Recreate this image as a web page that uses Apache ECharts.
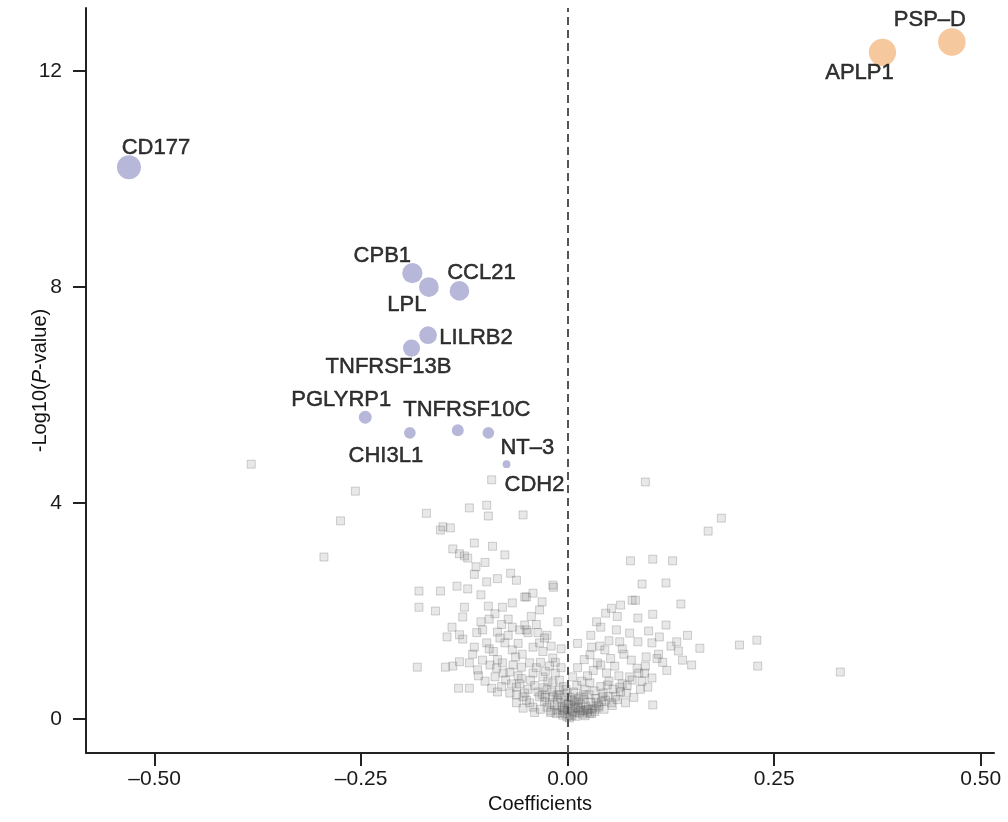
<!DOCTYPE html>
<html>
<head>
<meta charset="utf-8">
<script src="https://cdn.jsdelivr.net/npm/echarts@6/dist/echarts.min.js"></script>
<style>
  html, body { margin: 0; padding: 0; background: #ffffff; }
  #chart { width: 1008px; height: 822px; }
</style>
</head>
<body>
<div id="chart"></div>
<script>
// Highlighted proteins: regression coefficient and -log10(P)
const genes = ['PSP–D', 'APLP1', 'CD177', 'CPB1', 'LPL', 'CCL21', 'LILRB2', 'TNFRSF13B', 'PGLYRP1', 'CHI3L1', 'TNFRSF10C', 'NT–3', 'CDH2'];
const coefs = [0.465, 0.381, -0.531, -0.188, -0.168, -0.131, -0.169, -0.189, -0.245, -0.191, -0.133, -0.096, -0.074];
const logP  = [12.54, 12.35, 10.22, 8.26, 8.00, 7.93, 7.11, 6.87, 5.59, 5.30, 5.35, 5.30, 4.72];

// Remaining (non-significant) proteins
const bgCoef = [
  -0.383, -0.257, -0.275, -0.295, -0.171, -0.119, -0.098, -0.096, -0.054, -0.151, -0.142, -0.154,
  -0.139, -0.131, -0.125, -0.113, -0.091, -0.121, -0.111, -0.113, -0.076, -0.098, -0.069, -0.062,
  -0.050, -0.180, -0.154, -0.134, -0.121, -0.180, -0.125, -0.096, -0.079, -0.067, -0.127, -0.105,
  -0.103, -0.085, -0.067, -0.058, -0.052, -0.146, -0.131, -0.127, -0.113, -0.098, -0.076, -0.067,
  -0.182, -0.148, -0.139, -0.131, -0.119, -0.109, -0.103, -0.094, -0.086, -0.079, -0.070, -0.063,
  -0.056, -0.132, -0.119, -0.092, -0.085, -0.070, -0.062, -0.054, -0.062, -0.054, -0.092,
  0.094, 0.186, 0.170, 0.076, 0.103, 0.127, 0.119, 0.137, -0.017, 0.064, 0.046, 0.103,
  0.085, 0.119, 0.040, 0.059, 0.075, 0.098, 0.111, 0.063, 0.085, 0.102, 0.132, 0.160,
  0.208, 0.229, 0.230, 0.330, 0.134, 0.139, 0.029, 0.039, 0.027, 0.045, 0.036, 0.077,
  0.084, 0.093, 0.102, 0.097, 0.103, 0.075, 0.063, 0.071, 0.047, 0.048, 0.042, 0.053,
  0.035, 0.027, 0.021, 0.006, 0.015, 0.023, 0.008, -0.001, -0.018, -0.031, -0.034, -0.042,
  -0.052, -0.050, -0.042, -0.034, -0.046, -0.042, -0.030, -0.018, -0.025, -0.010, -0.018, -0.034,
  -0.050, -0.042, -0.025, -0.013, -0.006, 0.002, -0.018,
  -0.040, -0.036, -0.031, -0.028, -0.022, -0.020, -0.016, -0.012, -0.009, -0.007, -0.004, -0.003,
  0.000, 0.003, 0.004, 0.006, 0.009, 0.010, 0.012, 0.014, 0.016, 0.018, 0.020, 0.022,
  0.024, 0.026, 0.028, 0.030, 0.032, 0.034, 0.037, 0.040, 0.043, 0.046, 0.050, 0.055,
  0.058, 0.062, 0.066, -0.045, -0.048, -0.052, -0.058, -0.038, -0.033, -0.027, -0.022, -0.015,
  -0.010, -0.005, 0.000, 0.003, -0.002, 0.011, 0.017, 0.024, 0.031, 0.040, 0.052, 0.057,
  0.068, 0.070, 0.080, 0.088, 0.090, 0.012, 0.020, -0.008, -0.025, -0.038, -0.012, -0.030,
  -0.060, -0.066, -0.075, -0.080, -0.088, -0.100, -0.108, -0.115, -0.090, -0.082, -0.072, -0.088,
  -0.140, -0.160, -0.105, -0.085, -0.100, 0.110, 0.120, 0.095, 0.115, 0.150, 0.060, 0.082,
  -0.014, -0.006, 0.005, 0.013, -0.021, -0.027, 0.019, 0.027, -0.001, 0.008, -0.011, 0.033,
  -0.110, -0.095, -0.080, -0.072, -0.060, -0.055, -0.048, -0.044, -0.036, -0.028, -0.020, -0.015,
  -0.008, -0.095, -0.085, -0.078, -0.068, -0.062, -0.056, -0.046, -0.040, -0.033, -0.029, -0.024,
  -0.019, -0.013, -0.008, -0.004, 0.001, 0.005, 0.007, 0.010, 0.013, 0.016, 0.019, 0.021,
  0.025, 0.029, 0.033, 0.038, 0.041, 0.044, 0.049, 0.054, 0.060, 0.064, 0.072, 0.078,
  0.086, 0.094, 0.108, 0.125, 0.145, 0.028, 0.050, 0.066, 0.012, 0.035, 0.053, 0.078, 0.090
];
const bgLogP = [
  4.72, 4.22, 3.67, 3.00, 3.81, 3.91, 3.96, 3.76, 3.78, 3.56, 3.54, 3.50,
  3.15, 3.06, 3.02, 3.26, 3.20, 2.98, 2.82, 2.68, 3.04, 2.54, 2.70, 2.57,
  2.26, 2.37, 2.37, 2.46, 2.41, 2.07, 2.07, 2.09, 2.07, 2.15, 1.89, 1.80,
  1.65, 1.61, 1.70, 1.65, 1.74, 1.52, 1.56, 1.48, 1.33, 1.41, 1.41, 1.28,
  0.96, 0.96, 0.98, 1.06, 1.04, 0.91, 1.09, 1.00, 0.94, 1.04, 0.87, 1.15,
  0.96, 0.57, 0.57, 0.57, 0.50, 0.48, 0.59, 0.41, 0.30, 0.20, 4.43,
  4.39, 3.72, 3.48, 2.93, 2.96, 2.93, 2.52, 2.13, 2.44, 2.11, 1.96, 1.94,
  1.87, 1.74, 1.70, 1.65, 1.59, 1.63, 1.52, 1.43, 1.43, 1.41, 1.43, 1.31,
  1.37, 1.46, 0.98, 0.87, 1.26, 1.09, 1.33, 1.35, 1.19, 1.28, 1.04, 1.09,
  0.94, 0.85, 0.76, 0.59, 0.26, 0.78, 0.59, 0.48, 0.85, 0.63, 0.41, 0.30,
  0.30, 0.67, 0.54, 0.78, 0.41, 0.17, 0.11, 0.04, 1.13, 2.17, 2.02, 2.33,
  2.26, 1.65, 1.33, 1.41, 1.04, 0.85, 0.78, 0.67, 0.54, 0.54, 0.41, 0.41,
  0.35, 0.22, 0.22, 0.17, 0.07, 0.02, 2.48,
  0.62, 0.50, 0.45, 0.33, 0.30, 0.15, 0.26, 0.35, 0.12, 0.22, 0.30, 0.10,
  0.18, 0.08, 0.25, 0.14, 0.31, 0.05, 0.20, 0.12, 0.28, 0.09, 0.36, 0.24,
  0.13, 0.45, 0.31, 0.20, 0.52, 0.38, 0.25, 0.60, 0.48, 0.35, 0.70, 0.55,
  0.42, 0.80, 0.65, 0.72, 0.55, 0.48, 0.65, 0.95, 1.05, 0.88, 0.98, 0.85,
  0.72, 0.60, 0.48, 0.40, 0.55, 0.62, 0.70, 0.80, 0.90, 1.00, 1.12, 0.98,
  1.20, 0.30, 0.40, 0.55, 0.70, 0.95, 1.10, 1.30, 1.55, 1.75, 1.80, 1.25,
  0.80, 1.00, 0.72, 0.60, 0.78, 0.70, 0.80, 1.20, 1.25, 1.50, 1.85, 1.95,
  1.70, 2.00, 2.30, 2.60, 2.90, 1.20, 0.90, 1.15, 1.05, 1.00, 1.90, 2.20,
  0.10, 0.16, 0.06, 0.21, 0.12, 0.40, 0.15, 0.11, 0.27, 0.33, 0.44, 0.18,
  1.60, 1.85, 1.75, 1.55, 1.40, 1.20, 1.60, 1.90, 1.60, 1.50, 1.35, 1.05,
  0.95, 1.30, 1.10, 0.85, 0.65, 0.45, 0.75, 0.30, 0.12, 0.18, 0.58, 0.70,
  0.50, 0.45, 0.38, 0.20, 0.28, 0.35, 0.50, 0.22, 0.38, 0.16, 0.45, 0.06,
  0.18, 0.10, 0.14, 0.22, 0.32, 0.18, 0.42, 0.25, 0.36, 0.50, 0.62, 0.72,
  0.85, 0.98, 1.12, 1.35, 1.55, 1.55, 1.45, 1.30, 1.40, 1.80, 2.05, 2.20, 2.50
];

// Label placement around each highlighted point (px, relative to the point centre)
const labelShift = {
  'PSP–D': [-22, -22], 'APLP1': [-23, 21], 'CD177': [27, -19], 'CPB1': [-30, -17],
  'LPL': [-22, 18], 'CCL21': [22, -18], 'LILRB2': [48, 3], 'TNFRSF13B': [-23, 19],
  'PGLYRP1': [-24, -17], 'CHI3L1': [-24, 23], 'TNFRSF10C': [9, -20], 'NT–3': [39, 15],
  'CDH2': [28, 21]
};

const FONT = '"Liberation Sans", Arial, Helvetica, sans-serif';
const UP = '#f2ba86';
const DOWN = '#a5a5cf';

// marker diameter grows with significance
function dotSize(v) {
  return 5 + 8 * Math.sqrt(Math.max(v[1] - 4.6, 0));
}

const bgData = bgCoef.map((x, i) => [x, bgLogP[i]]);

function sigItems(sign) {
  const out = [];
  genes.forEach((g, i) => {
    if ((coefs[i] > 0) !== (sign > 0)) return;
    out.push({
      name: g,
      value: [coefs[i], logP[i]],
      label: { offset: labelShift[g] }
    });
  });
  return out;
}

const sigLabel = {
  show: true,
  position: 'inside',
  formatter: p => p.name,
  color: '#000000',
  textBorderWidth: 0.5,
  textBorderColor: '#000000',
  fontFamily: FONT,
  fontSize: 22,
  align: 'center',
  verticalAlign: 'middle'
};

const chart = echarts.init(document.getElementById('chart'));
chart.setOption({
  animation: false,
  backgroundColor: '#ffffff',
  grid: { left: 86, right: 14, top: 8, bottom: 69, outerBoundsMode: 'none' },
  xAxis: {
    type: 'value',
    min: -0.583,
    max: 0.516,
    name: 'Coefficients',
    nameLocation: 'middle',
    nameGap: 41,
    nameMoveOverlap: false,
    nameTextStyle: { fontFamily: FONT, fontSize: 20, color: '#111' },
    splitLine: { show: false },
    axisLine: { show: true, onZero: false, lineStyle: { color: '#222', width: 2 } },
    axisTick: { show: true, length: 13, lineStyle: { color: '#222', width: 2 },
      customValues: [-0.5, -0.25, 0, 0.25, 0.5] },
    axisLabel: {
      customValues: [-0.5, -0.25, 0, 0.25, 0.5],
      margin: 16,
      fontFamily: FONT, fontSize: 21, color: '#1a1a1a',
      formatter: v => (v < 0 ? '–' : '') + Math.abs(v).toFixed(2)
    }
  },
  yAxis: {
    type: 'value',
    min: -0.63,
    max: 13.17,
    name: '-Log10({i|P}-value)',
    nameLocation: 'middle',
    nameGap: 36,
    nameRotate: 90,
    nameMoveOverlap: false,
    nameTextStyle: {
      fontFamily: FONT, fontSize: 20, color: '#111',
      rich: { i: { fontFamily: FONT, fontSize: 20, fontStyle: 'italic', color: '#111' } }
    },
    splitLine: { show: false },
    axisLine: { show: true, onZero: false, lineStyle: { color: '#222', width: 2 } },
    axisTick: { show: true, length: 13, lineStyle: { color: '#222', width: 2 },
      customValues: [0, 4, 8, 12] },
    axisLabel: {
      customValues: [0, 4, 8, 12],
      margin: 24,
      fontFamily: FONT, fontSize: 21, color: '#1a1a1a'
    }
  },
  series: [
    {
      name: 'other',
      type: 'scatter',
      symbol: 'rect',
      symbolSize: 8,
      data: bgData,
      itemStyle: {
        color: 'rgba(110,110,110,0.2)',
        borderColor: 'rgba(80,80,80,0.3)',
        borderWidth: 1
      },
      silent: true,
      markLine: {
        silent: true,
        symbol: 'none',
        label: { show: false },
        lineStyle: { color: '#555', width: 2, type: [8, 5] },
        data: [{ xAxis: 0 }]
      },
      z: 2
    },
    {
      name: 'down',
      type: 'scatter',
      symbol: 'circle',
      symbolSize: dotSize,
      data: sigItems(-1),
      itemStyle: { color: DOWN },
      label: sigLabel,
      z: 3
    },
    {
      name: 'up',
      type: 'scatter',
      symbol: 'circle',
      symbolSize: dotSize,
      data: sigItems(1),
      itemStyle: { color: UP },
      label: sigLabel,
      z: 3
    }
  ]
});
</script>
</body>
</html>
